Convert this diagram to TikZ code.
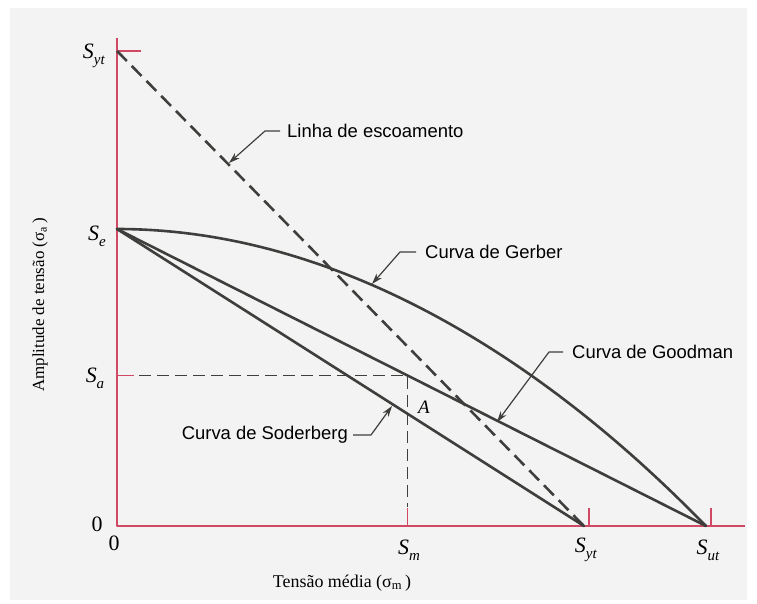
\documentclass[tikz,border=0pt]{standalone}
\usepackage{fontspec}
\setmainfont{Liberation Serif}
\newfontfamily\labelfont{Liberation Sans}
\usetikzlibrary{arrows.meta,calc}

\definecolor{axisred}{RGB}{208,72,100}
\definecolor{inkgray}{RGB}{62,62,60}
\definecolor{paper}{RGB}{243,243,243}

\newcommand{\symS}[1]{\textit{S}\raisebox{-0.28em}{\fontsize{15}{15}\selectfont\textit{#1}}}

\tikzset{
  axisline/.style={draw=axisred,line width=1.1bp},
  curve/.style={draw=inkgray,line width=2.6bp,line cap=round},
  yieldline/.style={draw=inkgray,line width=2.6bp,dash pattern=on 14bp off 7bp},
  guide/.style={draw=inkgray,line width=1.2bp,dash pattern=on 12bp off 6bp},
  leader/.style={draw=inkgray,line width=1.2bp,-{Stealth[length=11bp,width=7bp]}},
  curvelabel/.style={font=\labelfont\fontsize{18.5}{20}\selectfont,inner sep=0pt,text=black},
  symlabel/.style={font=\fontsize{22}{24}\selectfont,inner sep=0pt},
  axistitle/.style={font=\fontsize{18}{20}\selectfont,inner sep=0pt},
}

\begin{document}
\begin{tikzpicture}[x=1bp,y=-1bp,line join=round]
  % Paper
  \fill[white] (0,0) rectangle (757,604);
  \fill[paper] (10,8) rectangle (747,600);

  % Points
  \coordinate (O) at (117,526);
  \coordinate (Syt) at (117,51);
  \coordinate (Se) at (117,229);
  \coordinate (Sytx) at (584,526);
  \coordinate (Sut) at (706,526);
  \coordinate (A) at ($(Se)!0.4932!(Sut)$);
  \coordinate (Sa) at (O |- A);
  \coordinate (Sm) at (A |- O);

  % Axes and ticks
  \draw[axisline] (117,38) -- (O) -- (745,526);
  \draw[axisline] (Syt) -- ++(24,0);
  \draw[axisline] (Se) -- ++(20,0);
  \draw[axisline] (Sa) -- ++(17,0);
  \draw[axisline] (Sm) -- ++(0,-18);
  \draw[axisline] (589,526) -- ++(0,-18);
  \draw[axisline] (711,526) -- ++(0,-18);

  % Point A guides
  \draw[guide] ([xshift=22bp]Sa) -- (A) -- ([yshift=19bp]Sm);

  % Curves
  \draw[yieldline] (Syt) -- (Sytx);
  \draw[curve] (Se) -- (Sytx);
  \draw[curve] (Se) -- (Sut);
  \draw[curve] (Se) parabola (Sut);

  % Axis labels
  \node[symlabel] (sytlab) at (94,56) {\symS{yt}};
  \node[symlabel] (selab) at (97,236) {\symS{e}};
  \node[symlabel] (salab) at (95,378) {\symS{a}};
  \node[symlabel] (zeroy) at (97,524) {0};
  \node[symlabel] (zerox) at (114,543) {0};
  \node[symlabel] (smlab) at (409,550) {\symS{m}};
  \node[symlabel] (sytxlab) at (586,550) {\symS{yt}};
  \node[symlabel] (sutlab) at (708,550) {\symS{ut}};
  \node[symlabel,font=\fontsize{19}{21}\selectfont] (alab) at (424,407) {\textit{A}};

  \node[axistitle] (xtitle) at (342,583) {Tensão média (σ\textsubscript{m}\,)};
  \node[axistitle,rotate=90,font=\fontsize{17}{19}\selectfont] (ytitle) at (40,305) {Amplitude de tensão\ (σ\textsubscript{a}\,)};

  % Curve names
  \node[curvelabel,anchor=west] (linha) at (287,131) {Linha de escoamento};
  \node[curvelabel,anchor=west] (gerber) at (425,252) {Curva de Gerber};
  \node[curvelabel,anchor=west] (goodman) at (572,352) {Curva de Goodman};
  \node[curvelabel,anchor=east] (soderberg) at (348,435) {Curva de Soderberg};

  \coordinate (ytip) at (229,163);
  \coordinate (gtip) at (372,284);
  \coordinate (gotip) at (497,422);
  \coordinate (stip) at (392,406);

  \draw[leader] ([xshift=-7bp]linha.west) -- ++(-15,0) -- (ytip);
  \draw[leader] ([xshift=-9bp]gerber.west) -- ++(-16,0) -- (gtip);
  \draw[leader] ([xshift=-9bp]goodman.west) -- ++(-14,0) -- (gotip);
  \draw[leader] ([xshift=5bp]soderberg.east) -- ++(18,0) -- (stip);
\end{tikzpicture}
\end{document}
